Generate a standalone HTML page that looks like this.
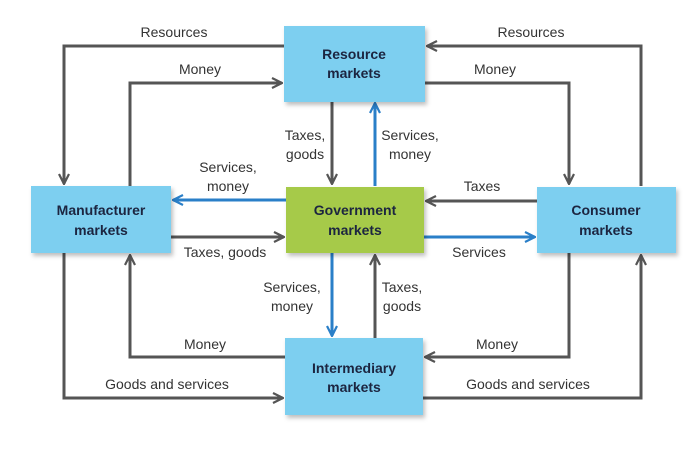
<!DOCTYPE html>
<html><head><meta charset="utf-8">
<style>
html,body{margin:0;padding:0;background:#fff;}
svg{display:block;}
text{font-family:"Liberation Sans Narrow","Liberation Sans",sans-serif;font-size:14px;fill:#333;}
.b{font-weight:bold;fill:#1c2540;font-size:14px;}
</style></head><body>
<svg width="700" height="458" viewBox="0 0 700 458" xmlns="http://www.w3.org/2000/svg">
<defs>
<filter id="sh" x="-10%" y="-10%" width="130%" height="130%"><feDropShadow dx="2" dy="3" stdDeviation="2" flood-color="#000" flood-opacity="0.25"/></filter>
<marker id="ag" viewBox="0 0 12 12" refX="11" refY="6" markerWidth="12" markerHeight="12" markerUnits="userSpaceOnUse" orient="auto"><path d="M1,1 L11,6 L1,11" fill="none" stroke="#555" stroke-width="2.2"/></marker>
<marker id="ab" viewBox="0 0 12 12" refX="11" refY="6" markerWidth="12" markerHeight="12" markerUnits="userSpaceOnUse" orient="auto"><path d="M1,1 L11,6 L1,11" fill="none" stroke="#2a7fc8" stroke-width="2.2"/></marker>
</defs>
<g fill="none" stroke="#555" stroke-width="3">
<polyline points="284,46 64,46 64,184" marker-end="url(#ag)"/>
<polyline points="130,186 130,83 282,83" marker-end="url(#ag)"/>
<polyline points="641,186 641,46 427,46" marker-end="url(#ag)"/>
<polyline points="424,83 569,83 569,184" marker-end="url(#ag)"/>
<line x1="332" y1="102" x2="332" y2="184" marker-end="url(#ag)"/>
<line x1="171" y1="237" x2="284" y2="237" marker-end="url(#ag)"/>
<line x1="537" y1="201" x2="426" y2="201" marker-end="url(#ag)"/>
<line x1="375" y1="338" x2="375" y2="255" marker-end="url(#ag)"/>
<polyline points="569,253 569,357 425,357" marker-end="url(#ag)"/>
<polyline points="423,398 641,398 641,255" marker-end="url(#ag)"/>
<polyline points="285,357 130,357 130,255" marker-end="url(#ag)"/>
<polyline points="64,253 64,398 283,398" marker-end="url(#ag)"/>
</g>
<g fill="none" stroke="#2a7fc8" stroke-width="3">
<line x1="375" y1="186" x2="375" y2="103" marker-end="url(#ab)"/>
<line x1="286" y1="200" x2="173" y2="200" marker-end="url(#ab)"/>
<line x1="424" y1="237" x2="535" y2="237" marker-end="url(#ab)"/>
<line x1="332" y1="253" x2="332" y2="336" marker-end="url(#ab)"/>
</g>
<g filter="url(#sh)">
<rect x="284" y="26" width="141" height="76" fill="#7dcff0"/>
<rect x="31" y="186" width="140" height="67" fill="#7dcff0"/>
<rect x="286" y="187" width="138" height="66" fill="#a6ca48"/>
<rect x="537" y="187" width="139" height="66" fill="#7dcff0"/>
<rect x="285" y="338" width="138" height="77" fill="#7dcff0"/>
</g>
<g text-anchor="middle">
<text class="b" x="354" y="59">Resource</text><text class="b" x="354" y="78">markets</text>
<text class="b" x="101" y="215">Manufacturer</text><text class="b" x="101" y="235">markets</text>
<text class="b" x="355" y="215">Government</text><text class="b" x="355" y="235">markets</text>
<text class="b" x="606" y="215">Consumer</text><text class="b" x="606" y="235">markets</text>
<text class="b" x="354" y="373">Intermediary</text><text class="b" x="354" y="392">markets</text>
<text x="174" y="37">Resources</text>
<text x="200" y="74">Money</text>
<text x="531" y="37">Resources</text>
<text x="495" y="74">Money</text>
<text x="305" y="140">Taxes,</text><text x="305" y="159">goods</text>
<text x="410" y="140">Services,</text><text x="410" y="159">money</text>
<text x="228" y="172">Services,</text><text x="228" y="191">money</text>
<text x="225" y="257">Taxes, goods</text>
<text x="482" y="191">Taxes</text>
<text x="479" y="257">Services</text>
<text x="292" y="292">Services,</text><text x="292" y="311">money</text>
<text x="402" y="292">Taxes,</text><text x="402" y="311">goods</text>
<text x="205" y="349">Money</text>
<text x="497" y="349">Money</text>
<text x="167" y="389">Goods and services</text>
<text x="528" y="389">Goods and services</text>
</g>
</svg>
</body></html>
